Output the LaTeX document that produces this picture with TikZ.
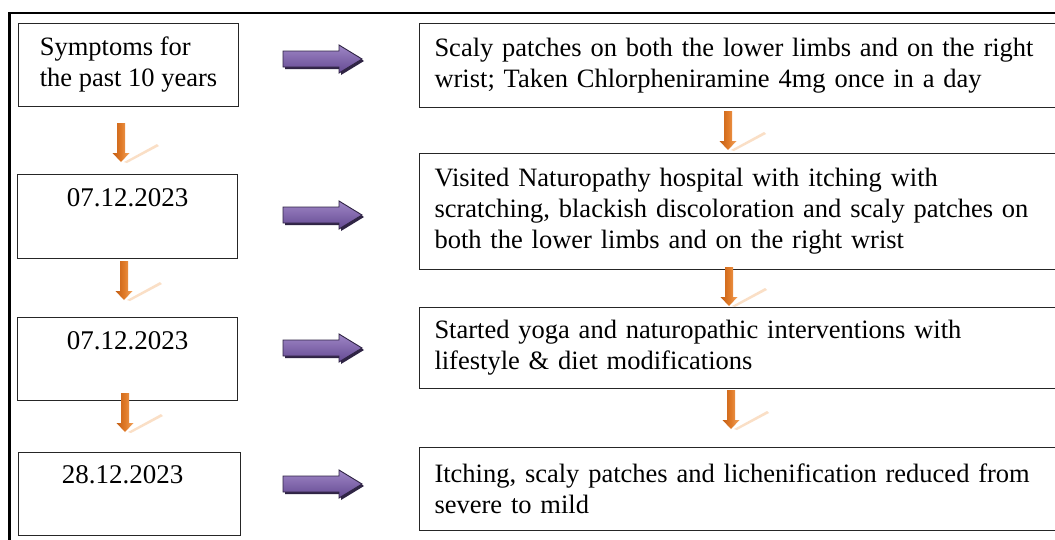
\documentclass[tikz,border=0pt]{standalone}
\usepackage{fontspec}
\setmainfont{Liberation Serif}
\usetikzlibrary{calc}
\definecolor{ptop}{HTML}{9E86C6}
\definecolor{pbot}{HTML}{654A92}
\definecolor{pdark}{HTML}{2F2444}
\definecolor{oran}{HTML}{E07A28}
\definecolor{orandark}{HTML}{C45F14}
\definecolor{oranlight}{HTML}{F3A45E}
\tikzset{
  box/.style={draw=black!85, line width=1pt, inner sep=0pt, font=\fontsize{26.5}{31}\selectfont},
  lbox/.style={box, anchor=north west, minimum width=220pt, minimum height=83pt, align=left},
  rbox/.style={box, anchor=north west, inner xsep=15pt, text width=680pt, minimum height=84pt, align=left},
  datelabel/.style={font=\fontsize{27}{31}\selectfont, anchor=north, inner sep=0pt},
  purplearrow/.pic={
    \fill[pdark] (-37,-6) -- (19,-6) -- (19,-12) -- (42,2) -- (19,16) -- (19,10) -- (-37,10) -- cycle;
    \shade[top color=ptop, bottom color=pbot, draw=pdark, line width=0.9pt]
      (-39,-8) -- (17,-8) -- (17,-14) -- (40,0) -- (17,14) -- (17,8) -- (-39,8) -- cycle;
  },
  orangearrow/.pic={
    \fill[oranlight, opacity=0.35] (3,19) -- (36,1) -- (38,3) -- (6,20) -- cycle;
    \shade[left color=orandark, right color=oranlight, middle color=oran]
      (-4,-20) -- (4,-20) -- (4,10) -- (8.5,10) -- (0,19) -- (-8.5,10) -- (-4,10) -- cycle;
  }
}
\begin{document}
\begin{tikzpicture}[x=1pt,y=-1pt]
\clip (0,0) rectangle (1055,539);
\fill[white] (0,0) rectangle (1055,539);
% outer frame
\draw[line width=2.2pt] (9.5,560) -- (9.5,13) -- (1080,13);

% left column
\node[lbox] (l1) at (18,23) {Symptoms for\\the past 10 years};
\node[lbox, minimum height=84pt] (l2) at (17,174) {};
\node[datelabel] at ($(l2.north)+(0,14)$) {07.12.2023};
\node[lbox] (l3) at (17,317) {};
\node[datelabel] at ($(l3.north)+(0,14)$) {07.12.2023};
\node[lbox, minimum width=222pt] (l4) at (18,452) {};
\node[datelabel] at ($(l4.north)+(-7,13)$) {28.12.2023};

% right column
\node[rbox] (r1) at (419,23) {Scaly patches on both the lower limbs and on the right\\wrist; Taken Chlorpheniramine 4mg once in a day};
\node[rbox, minimum height=116pt] (r2) at (419,153) {Visited Naturopathy hospital with itching with\\scratching, blackish discoloration and scaly patches on\\both the lower limbs and on the right wrist};
\node[rbox, minimum height=81pt] (r3) at (419,307) {Started yoga and naturopathic interventions with\\lifestyle \& diet modifications};
\node[rbox, minimum height=83pt] (r4) at (419,447) {Itching, scaly patches and lichenification reduced from\\severe to mild};

% purple arrows
\pic at (322,59) {purplearrow};
\pic at (322,215) {purplearrow};
\pic at (322,348) {purplearrow};
\pic at (322,484) {purplearrow};

% orange arrows, left column
\pic at (121,143) {orangearrow};
\pic at (124,281) {orangearrow};
\pic at (125,413) {orangearrow};
% orange arrows, right column
\pic at (728,131) {orangearrow};
\pic at (729,287) {orangearrow};
\pic at (731,410) {orangearrow};
\end{tikzpicture}
\end{document}
